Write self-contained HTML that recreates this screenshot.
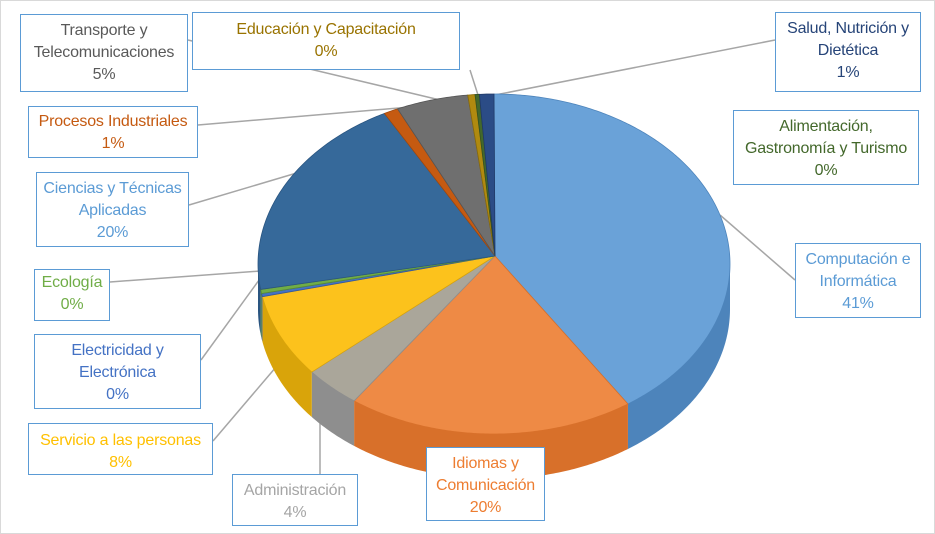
<!DOCTYPE html>
<html><head><meta charset="utf-8"><style>
body{margin:0;background:#fff}
#w{position:relative;width:935px;height:534px;overflow:hidden;font-family:"Liberation Sans",sans-serif}
.f{position:absolute;left:0;top:0;width:933px;height:532px;border:1px solid #d9d9d9}
.b{position:absolute;background:#fff;border:1.5px solid #5b9bd5;font-size:16px;line-height:22px;text-align:center;box-sizing:border-box;padding-top:5px;white-space:nowrap;letter-spacing:-0.2px}
svg{position:absolute;left:0;top:0}
</style></head><body><div id="w"><div class="f"></div>
<svg id="s" width="935" height="534"></svg>
<div class="b" style="left:20px;top:14px;width:168px;height:78px;color:#595959">Transporte y<br>Telecomunicaciones<br>5%</div>
<div class="b" style="left:192px;top:12px;width:268px;height:58px;color:#997300;padding-top:6px">Educación y Capacitación<br>0%</div>
<div class="b" style="left:775px;top:12px;width:146px;height:80px;color:#264478">Salud, Nutrición y<br>Dietética<br>1%</div>
<div class="b" style="left:28px;top:106px;width:170px;height:52px;color:#c55a11;padding-top:4px">Procesos Industriales<br>1%</div>
<div class="b" style="left:733px;top:110px;width:186px;height:75px;color:#43682b">Alimentación,<br>Gastronomía y Turismo<br>0%</div>
<div class="b" style="left:36px;top:172px;width:153px;height:75px;color:#5b9bd5">Ciencias y Técnicas<br>Aplicadas<br>20%</div>
<div class="b" style="left:795px;top:243px;width:126px;height:75px;color:#5b9bd5">Computación e<br>Informática<br>41%</div>
<div class="b" style="left:34px;top:269px;width:76px;height:52px;color:#70ad47;padding-top:2px">Ecología<br>0%</div>
<div class="b" style="left:34px;top:334px;width:167px;height:75px;color:#4472c4">Electricidad y<br>Electrónica<br>0%</div>
<div class="b" style="left:28px;top:423px;width:185px;height:52px;color:#ffc000;padding-top:6px">Servicio a las personas<br>8%</div>
<div class="b" style="left:232px;top:474px;width:126px;height:52px;color:#a5a5a5;padding-top:5px">Administración<br>4%</div>
<div class="b" style="left:426px;top:447px;width:119px;height:74px;color:#ed7d31;padding-top:5px">Idiomas y<br>Comunicación<br>20%</div>
</div>
<script>
var s=document.getElementById('s'),cx=494,cy=264,rx=236,ry=170,d=45,ax=495,ay=256;
var sl=[[41,'#6aa2d8','#4d84bb'],[20,'#ee8a45','#d8702a'],[4,'#aaa69a','#8e8e8e'],[8,'#fcc21c','#d9a40a'],[0.3,'#4472c4','#35589a'],[0.4,'#70ad47','#578a36'],[20,'#36699a','#2a5580'],[1,'#c55a11','#a0480d'],[5,'#6f6f6f','#555'],[0.5,'#b08a10','#8a6b0a'],[0.3,'#43682b','#345221'],[1,'#2b4c86','#203a68']];
var tot=0;sl.forEach(function(a){tot+=a[0]});
function P(t,dy){return [cx+rx*Math.sin(t),cy-ry*Math.cos(t)+(dy||0)]}
var h='',c=0;
var L=[[188,40,440,100],[470,70,478,95],[775,40,495,95],[198,125,410,107],[189,205,300,172],[795,280,720,215],[110,282,260,271],[201,360,262,276],[213,441,282,360],[320,474,320,420]];
L.forEach(function(l){h+='<line x1="'+l[0]+'" y1="'+l[1]+'" x2="'+l[2]+'" y2="'+l[3]+'" stroke="#a6a6a6" stroke-width="1.5"/>'});
var segs=[];
sl.forEach(function(a){var a1=c/tot*2*Math.PI;c+=a[0];var a2=c/tot*2*Math.PI;segs.push([a1,a2,a[1],a[2]])});
segs.forEach(function(g){var a1=Math.max(g[0],Math.PI/2),a2=Math.min(g[1],1.5*Math.PI);if(a2<=a1)return;
var p='M'+P(a1);for(var t=a1;t<=a2;t+=0.01)p+=' L'+P(t);p+=' L'+P(a2);for(var t=a2;t>=a1;t-=0.01)p+=' L'+P(t,d);p+=' L'+P(a1,d)+'Z';
h+='<path d="'+p+'" fill="'+g[3]+'"/>'});
segs.forEach(function(g){var p='M'+ax+','+ay+' L'+P(g[0]);for(var t=g[0];t<=g[1];t+=0.01)p+=' L'+P(t);p+=' L'+P(g[1])+'Z';
h+='<path d="'+p+'" fill="'+g[2]+'" stroke="'+g[3]+'" stroke-width="0.8"/>'});
s.innerHTML=h;
</script></body></html>
